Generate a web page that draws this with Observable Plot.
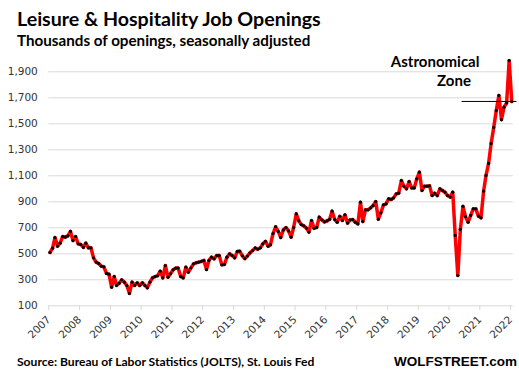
<!DOCTYPE html>
<html>
<head>
<meta charset="utf-8">
<script src="https://cdn.jsdelivr.net/npm/d3@7"></script>
<script src="https://cdn.jsdelivr.net/npm/@observablehq/plot@0.6"></script>
<style>
  body { margin: 0; background: #fff; }
  #wrap { position: relative; width: 519px; height: 378px; overflow: hidden; background: #fff; }
  .t { position: absolute; white-space: nowrap; line-height: 1; font-weight: bold; color: #000; }
  #title { left: 17px; top: 9px; font-family: Lato, sans-serif; font-size: 19.6px; }
  #subtitle { left: 17px; top: 33px; font-family: Lato, sans-serif; font-size: 15.2px; }
  #source { left: 17px; top: 356px; font-family: Lato, sans-serif; font-size: 12.1px; }
  #brand { right: 2px; top: 355px; font-family: "Liberation Sans", Arial, sans-serif; font-size: 13.5px; }
  #chart { position: absolute; left: 0; top: 50px; }
</style>
</head>
<body>
<div id="wrap">
  <div class="t" id="title">Leisure &amp; Hospitality Job Openings</div>
  <div class="t" id="subtitle">Thousands of openings, seasonally adjusted</div>
  <div id="chart"></div>
  <div class="t" id="source">Source: Bureau of Labor Statistics (JOLTS), St. Louis Fed</div>
  <div class="t" id="brand">WOLFSTREET.com</div>
</div>
<script>
// Monthly job openings (thousands), Jan 2007 – Jan 2022
const v2007 = [510, 543, 625, 559, 582, 633, 628, 638, 672, 602, 633, 577];
const v2008 = [572, 549, 582, 546, 546, 469, 436, 425, 405, 400, 349, 343];
const v2009 = [243, 325, 256, 274, 300, 282, 256, 195, 282, 256, 277, 256];
const v2010 = [277, 256, 238, 282, 315, 325, 331, 366, 315, 410, 320, 346];
const v2011 = [377, 390, 390, 325, 315, 397, 359, 392, 423, 431, 436, 441];
const v2012 = [449, 379, 449, 474, 461, 487, 487, 415, 418, 474, 500, 487];
const v2013 = [469, 518, 520, 485, 463, 483, 507, 525, 545, 535, 546, 577];
const v2014 = [596, 558, 570, 656, 708, 672, 625, 684, 702, 676, 628, 702];
const v2015 = [807, 753, 725, 715, 698, 667, 756, 696, 703, 782, 761, 745];
const v2016 = [753, 765, 828, 764, 743, 789, 756, 800, 736, 761, 764, 743];
const v2017 = [730, 897, 748, 838, 838, 854, 871, 902, 766, 815, 877, 884];
const v2018 = [923, 918, 930, 961, 966, 1064, 1020, 1000, 1056, 1007, 1007, 1077];
const v2019 = [1128, 987, 1020, 1020, 1023, 948, 966, 948, 1000, 987, 974, 948];
const v2020 = [936, 974, 641, 333, 688, 865, 785, 743, 795, 846, 846, 790];
const v2021 = [777, 982, 1102, 1195, 1348, 1472, 1602, 1718, 1532, 1628, 1660, 1987];
const v2022 = [1671];

const startYear = 2007;
const yearTicks = [2007, 2008, 2009, 2010, 2011, 2012, 2013, 2014, 2015, 2016, 2017, 2018, 2019, 2020, 2021, 2022];
const yTicks = [100, 300, 500, 700, 900, 1100, 1300, 1500, 1700, 1900];

const zoneLevel = 1672;
const zoneStart = "2020-06-05";
const zoneEnd = "2022-03-18";
const zoneLabel1 = "Astronomical";
const zoneLabel2 = "Zone";

const allValues = [].concat(v2007, v2008, v2009, v2010, v2011, v2012, v2013, v2014,
  v2015, v2016, v2017, v2018, v2019, v2020, v2021, v2022);
const data = allValues.map((v, i) => ({ date: new Date(Date.UTC(startYear, i, 15)), value: v }));
const xTickDates = yearTicks.map(y => new Date(Date.UTC(y, 0, 1)));

const chart = Plot.plot({
  width: 519,
  height: 300,
  marginLeft: 48.3,
  marginRight: 6.3,
  marginTop: 21.3,
  marginBottom: 44.7,
  x: { type: "utc", domain: [new Date(Date.UTC(2007, 0, 1)), new Date(Date.UTC(2022, 1, 1))] },
  y: { domain: [100, 1900] },
  style: { fontFamily: "'DejaVu Sans', sans-serif", fontSize: "10.5px", color: "#333", background: "#fff", overflow: "visible" },
  marks: [
    Plot.gridY(yTicks.filter(t => t > 100), { stroke: "#d9d9d9", strokeOpacity: 1 }),
    Plot.ruleY([100], { stroke: "#d9d9d9", strokeWidth: 1 }),
    Plot.axisY(yTicks, { tickSize: 0, tickPadding: 11, tickFormat: d3.format(","), label: null, fill: "#333" }),
    Plot.axisX(xTickDates, { tickSize: 5, stroke: "#d9d9d9", fill: "#333", tickRotate: -45, tickPadding: 7, tickFormat: d => String(d.getUTCFullYear()), label: null }),
    Plot.line(data, { x: "date", y: "value", stroke: "#ff0000", strokeWidth: 3.5, strokeLinejoin: "round" }),
    Plot.dot(data, { x: "date", y: "value", r: 1.6, fill: "#000", stroke: null }),
    Plot.ruleY([zoneLevel], { x1: new Date(zoneStart), x2: new Date(zoneEnd), stroke: "#000", strokeWidth: 1 }),
    Plot.text([zoneLabel1], { x: new Date("2019-07-21"), y: 1975, text: d => d, fontFamily: "Lato, sans-serif", fontWeight: "bold", fontSize: 15, fill: "#000", textAnchor: "middle" }),
    Plot.text([zoneLabel2], { x: new Date("2020-03-01"), y: 1830, text: d => d, fontFamily: "Lato, sans-serif", fontWeight: "bold", fontSize: 15, fill: "#000", textAnchor: "middle" })
  ]
});
document.getElementById("chart").appendChild(chart);
</script>
</body>
</html>
